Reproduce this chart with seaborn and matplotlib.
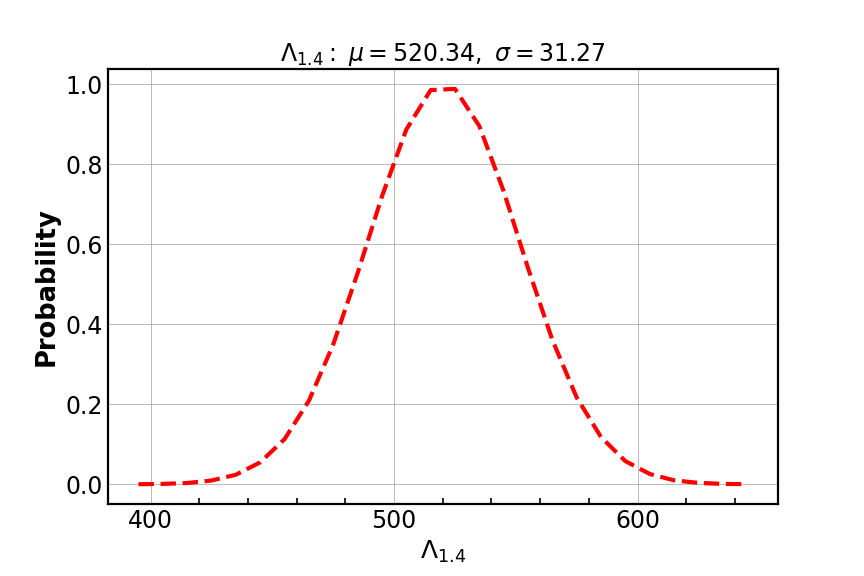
import numpy as np
import pandas as pd
import matplotlib.pyplot as plt
from matplotlib.ticker import MultipleLocator
import seaborn as sns

# Lambda_1.4 grid and normalised probability
lam = [395, 405, 415, 425, 435, 445, 455, 465, 475, 485, 495, 505, 515,
       525, 535, 545, 555, 565, 575, 585, 595, 605, 615, 625, 635, 645]
prob = [0.0003, 0.0011, 0.0034, 0.0096, 0.024, 0.055, 0.113, 0.209, 0.350,
        0.528, 0.720, 0.887, 0.986, 0.989, 0.896, 0.733, 0.541, 0.361,
        0.217, 0.118, 0.058, 0.026, 0.010, 0.0037, 0.0012, 0.0004]

df = pd.DataFrame({"lam": lam, "prob": prob})

sns.set_style("white")
plt.rcParams["text.color"] = "black"
plt.rcParams["axes.labelcolor"] = "black"
plt.rcParams["xtick.color"] = "black"
plt.rcParams["ytick.color"] = "black"

fig, ax = plt.subplots(figsize=(8.64, 5.76), dpi=100)
fig.subplots_adjust(left=0.125, right=0.9, bottom=0.125, top=0.88)

sns.lineplot(data=df, x="lam", y="prob", color="red", linestyle="--",
             linewidth=3, ax=ax)

ax.grid(True, color="#b0b0b0", linewidth=0.6)
ax.xaxis.set_major_locator(MultipleLocator(100))
ax.xaxis.set_minor_locator(MultipleLocator(20))
ax.tick_params(axis="both", which="major", direction="in", length=8,
               width=2.2, labelsize=17, color="black", labelcolor="black")
ax.tick_params(axis="x", which="minor", direction="in", length=4,
               width=1.2, bottom=True, color="black")
for sp in ax.spines.values():
    sp.set_linewidth(1.6)
    sp.set_color("black")

ax.set_xlabel(r"$\Lambda_{1.4}$", fontsize=18, color="black")
ax.set_ylabel("Probability", fontsize=18.5, fontweight="bold", color="black")
ax.set_title(r"$\Lambda_{1.4}:\ \mu = 520.34,\ \sigma = 31.27$", fontsize=17,
             color="black")

plt.savefig("out.png")
plt.close()
